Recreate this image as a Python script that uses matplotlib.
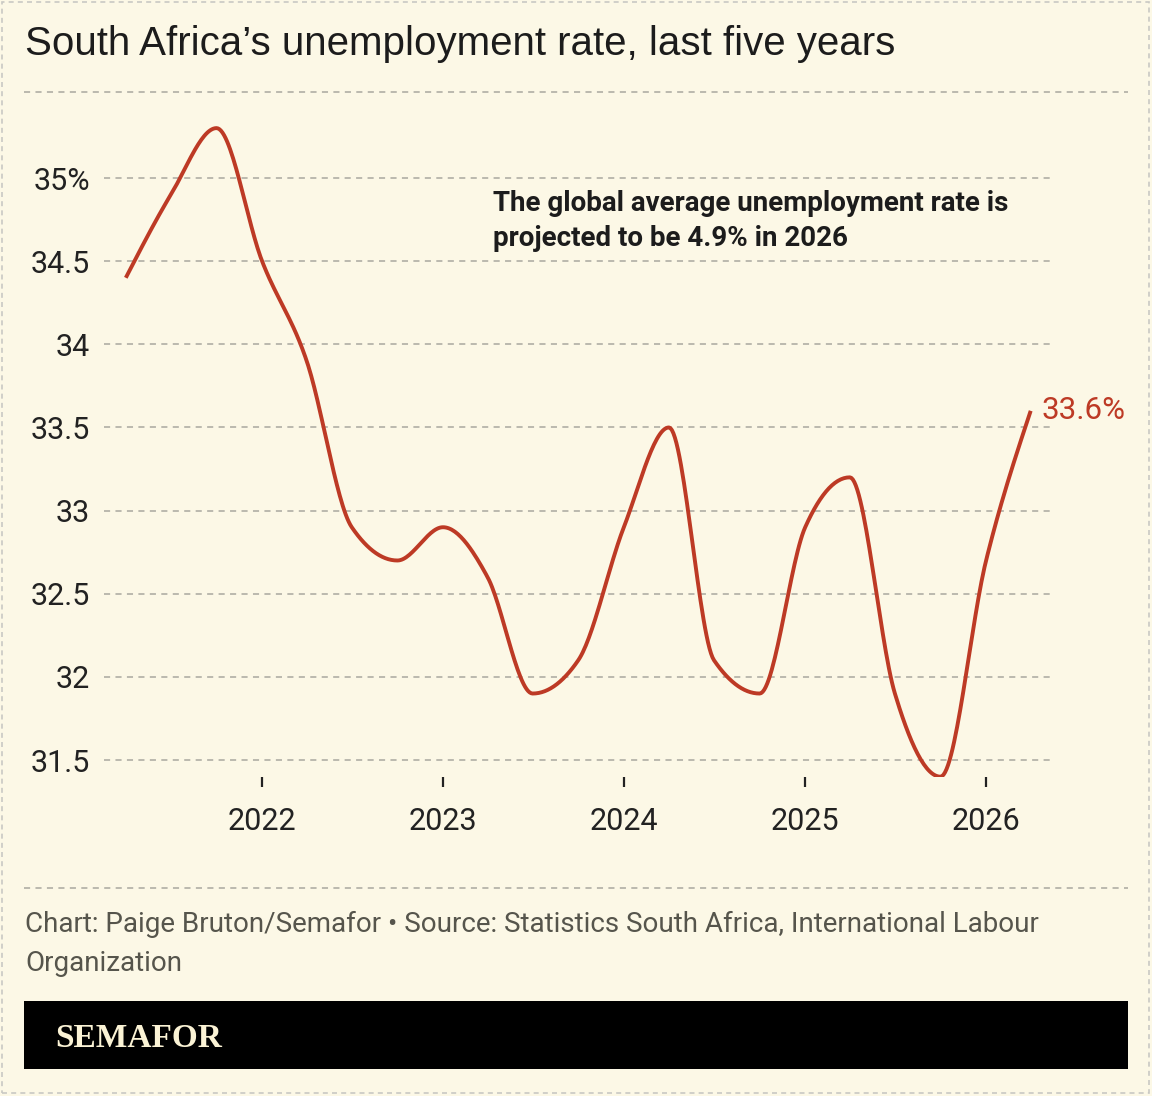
import numpy as np
import pandas as pd
import matplotlib
matplotlib.use("Agg")
import matplotlib.pyplot as plt
import matplotlib.dates as mdates
from matplotlib.patches import Rectangle
from matplotlib.lines import Line2D

# -------- Data --------
quarters = pd.date_range("2021-04-01", "2026-04-01", freq="QS")
rates = [34.4, 34.9, 35.3, 34.5, 33.9, 32.9, 32.7, 32.9, 32.6, 31.9, 32.1,
         32.9, 33.5, 32.1, 31.9, 32.9, 33.2, 31.9, 31.4, 32.7, 33.6]
year_ticks = ["2022", "2023", "2024", "2025", "2026"]
y_ticks = [31.5, 32, 32.5, 33, 33.5, 34, 34.5, 35]
y_labels = ["31.5", "32", "32.5", "33", "33.5", "34", "34.5", "35%"]

title = "South Africa\u2019s unemployment rate, last five years"
note = "The global average unemployment rate is\nprojected to be 4.9% in 2026"
source1 = "Chart: Paige Bruton/Semafor \u2022 Source: Statistics South Africa, International Labour"
source2 = "Organization"

BG = "#fcf8e6"
RED = "#bd3a25"
GRID = "#a9a89f"
W, H = 1152, 1096


def px(x, y):
    return x / W, 1 - y / H


def monotone(x, y, n=30):
    # monotone cubic (like d3 curveMonotoneX) for a smooth line through the points
    x = np.asarray(x, float)
    y = np.asarray(y, float)
    h = np.diff(x)
    s = np.diff(y) / h
    m = np.zeros_like(y)
    for i in range(1, len(y) - 1):
        p = (s[i - 1] * h[i] + s[i] * h[i - 1]) / (h[i - 1] + h[i])
        m[i] = (np.sign(s[i - 1]) + np.sign(s[i])) * min(abs(s[i - 1]), abs(s[i]), 0.5 * abs(p))
    m[0] = (3 * s[0] - m[1]) / 2
    m[-1] = (3 * s[-1] - m[-2]) / 2
    xs, ys = [], []
    for i in range(len(h)):
        t = np.linspace(0, 1, n, endpoint=(i == len(h) - 1))
        h00 = 2 * t**3 - 3 * t**2 + 1
        h10 = t**3 - 2 * t**2 + t
        h01 = -2 * t**3 + 3 * t**2
        h11 = t**3 - t**2
        xs.append(x[i] + t * h[i])
        ys.append(h00 * y[i] + h10 * h[i] * m[i] + h01 * y[i + 1] + h11 * h[i] * m[i + 1])
    return np.concatenate(xs), np.concatenate(ys)


fig = plt.figure(figsize=(W / 100, H / 100), dpi=100, facecolor=BG)

# -------- Chart area --------
left, right, top, bottom = 104, 1051, 100, 777
ax = fig.add_axes([left / W, 1 - bottom / H, (right - left) / W, (bottom - top) / H])
ax.set_facecolor(BG)
for sp in ax.spines.values():
    sp.set_visible(False)

xnum = mdates.date2num(quarters)
sx, sy = monotone(xnum, rates)
ax.plot(sx, sy, color=RED, lw=2.8, solid_capstyle="butt", zorder=3)

# y scale: 35 at px 178, 166.3 px per point
ppu = 166.3
ax.set_ylim(35 - (bottom - 178) / ppu, 35 + (178 - top) / ppu)
ax.set_xlim(mdates.date2num(pd.Timestamp("2021-02-16")),
            mdates.date2num(pd.Timestamp("2026-05-12")))

ax.set_yticks(y_ticks)
ax.set_yticklabels(y_labels)
ax.yaxis.grid(True, color=GRID, lw=1.1, linestyle=(0, (4, 3.5)))
ax.tick_params(axis="y", length=0, pad=10, labelsize=22, labelcolor="#222222")
for lab in ax.get_yticklabels():
    lab.set_family(["Roboto"])

xt = [mdates.date2num(pd.Timestamp(y + "-01-01")) for y in year_ticks]
ax.set_xticks(xt)
ax.set_xticklabels(year_ticks)
ax.tick_params(axis="x", length=7.5, width=1.6, color="#222222", pad=14,
               labelsize=22, labelcolor="#222222")
for lab in ax.get_xticklabels():
    lab.set_family(["Roboto"])

# end label
ax.annotate("33.6%", (xnum[-1], rates[-1]), xytext=(8, 0), textcoords="offset points",
            color=RED, fontsize=22.5, family=["Roboto"], va="center", ha="left",
            annotation_clip=False)

# -------- Texts and frame --------
fig.text(*px(25, 55), title, fontsize=29, family=["Liberation Sans"], color="#1c1c1c",
         va="baseline", ha="left")
fig.add_artist(Line2D([24 / W, 1128 / W], [1 - 92 / H] * 2, color=GRID, lw=1.1,
                      linestyle=(0, (4, 3.5))))

fig.text(*px(493, 211), note.split("\n")[0], fontsize=20, fontweight="bold",
         family=["Roboto"], color="#1c1c1c", va="baseline", ha="left")
fig.text(*px(493, 246), note.split("\n")[1], fontsize=20, fontweight="bold",
         family=["Roboto"], color="#1c1c1c", va="baseline", ha="left")

fig.add_artist(Line2D([24 / W, 1128 / W], [1 - 888 / H] * 2, color=GRID, lw=1.1,
                      linestyle=(0, (4, 3.5))))
fig.text(*px(25, 932), source1, fontsize=20, family=["Roboto"],
         color="#56554c", va="baseline", ha="left")
fig.text(*px(25, 971), source2, fontsize=20, family=["Roboto"],
         color="#56554c", va="baseline", ha="left")

fig.add_artist(Rectangle(px(24, 1069), 1104 / W, 68 / H, transform=fig.transFigure,
                         facecolor="black", edgecolor="none"))
fig.text(*px(55, 1047), "SEMAFOR", fontsize=24, fontweight="bold",
         family=["Liberation Serif"], color="#fbf3d5", va="baseline", ha="left")

fig.add_artist(Rectangle(px(2, 1093), 1147 / W, 1091 / H, transform=fig.transFigure,
                         facecolor="none", edgecolor="#c9c9c4", lw=1.2,
                         linestyle=(0, (3, 2.5))))

fig.savefig("out.png", dpi=100, facecolor=BG)
